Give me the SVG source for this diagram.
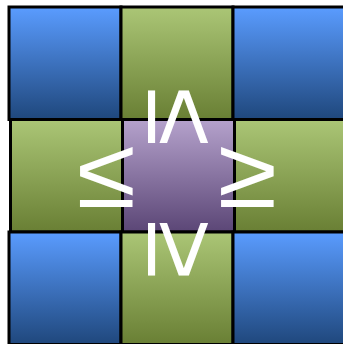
<svg xmlns="http://www.w3.org/2000/svg" width="343" height="344" viewBox="0 0 343 344">
<defs>
<linearGradient id="gb" x1="0" y1="0" x2="0" y2="1"><stop offset="0" stop-color="#5a9cff"/><stop offset="1" stop-color="#1f477c"/></linearGradient>
<linearGradient id="gg" x1="0" y1="0" x2="0" y2="1"><stop offset="0" stop-color="#abc676"/><stop offset="1" stop-color="#697f34"/></linearGradient>
<linearGradient id="gp" x1="0" y1="0" x2="0" y2="1"><stop offset="0" stop-color="#b5a2cc"/><stop offset="1" stop-color="#5b4676"/></linearGradient>
</defs>
<style>
.c{stroke:#000;stroke-width:3}
.b{fill:url(#gb)}.g{fill:url(#gg)}.p{fill:url(#gp)}
.t{font-family:"Liberation Sans",Arial,sans-serif;font-size:100px;fill:#fff;text-anchor:middle}
</style>
<g id="r1c1"><rect class="c b" x="9" y="7" width="112" height="112.5"/></g>
<g id="r1c2"><rect class="c g" x="121" y="7" width="112" height="112.5"/></g>
<g id="r1c3"><rect class="c b" x="233" y="7" width="112" height="112.5"/></g>
<g id="r2c1"><rect class="c g" x="10.5" y="119.5" width="112" height="112.5"/></g>
<g id="r2c2"><rect class="c p" x="122.5" y="119.5" width="112" height="112.5"/></g>
<g id="r2c3"><rect class="c g" x="234.5" y="119.5" width="112" height="112.5"/></g>
<g id="r3c1"><rect class="c b" x="9" y="232" width="112" height="112.5"/></g>
<g id="r3c2"><rect class="c g" x="121" y="232" width="112" height="112.5"/></g>
<g id="r3c3"><rect class="c b" x="233" y="232" width="112" height="112.5"/></g>
<g id="labels">
<text class="t" transform="translate(106.5,207) scale(1.08,1)" x="0" y="0">≤</text>
<text class="t" transform="translate(247.5,207) scale(1.08,1)" x="0" y="0">≥</text>
<text class="t" transform="translate(177,117) rotate(90) scale(1.08,1)" x="0" y="29">≤</text>
<text class="t" transform="translate(177,249.5) rotate(90) scale(1.08,1)" x="0" y="29">≥</text>
</g>
</svg>
